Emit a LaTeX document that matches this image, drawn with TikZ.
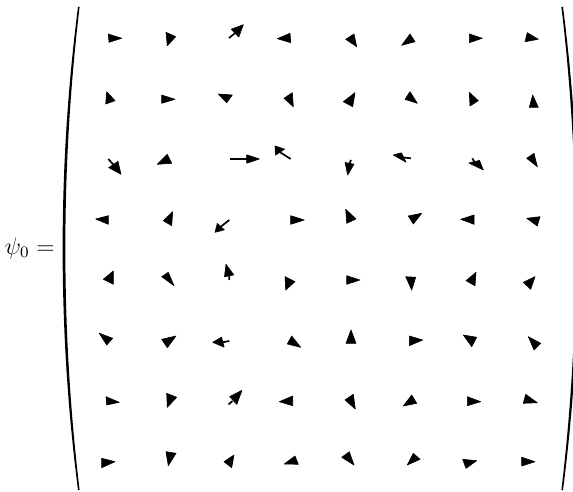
\documentclass[tikz,border=0pt]{standalone}
\tikzset{
  vechead/.style={fill=black, draw=black, line width=0.3pt, line join=round},
  vecshaft/.style={line width=0.85pt},
  parenfill/.style={fill=black}
}
\newcommand\vhead[3]{\filldraw[vechead] (#1) -- (#2) -- (#3) -- cycle;}
\newcommand\vshaft[2]{\draw[vecshaft] (#1) -- (#2);}
\begin{document}
\begin{tikzpicture}[x=0.5pt,y=-0.5pt]
\useasboundingbox (0,0) rectangle (573,492);
\clip (0,0) rectangle (573,492);
% left-hand side
\node[anchor=base east, inner sep=0pt, font=\fontsize{12}{14}\selectfont] (lhs) at (55,254) {$\psi_0 =$};
% parentheses
\fill[parenfill] (78,7) .. controls (57.5,166) and (57.5,331) .. (78,490)
  -- (79.6,490) .. controls (60.6,331) and (60.6,166) .. (79.6,7) -- cycle;
\fill[parenfill] (563,7) .. controls (583.5,166) and (583.5,331) .. (563,490)
  -- (561.4,490) .. controls (580.4,331) and (580.4,166) .. (561.4,7) -- cycle;
% row 1
\vhead{108.3,34}{109,42.3}{121.7,38.3}
\vhead{166,32.3}{175.7,36.7}{167.3,45.7}
\vshaft{229,38}{235,33.2}\vhead{231.2,29.2}{238.8,37.1}{243.3,24.7}
\vhead{277.3,38.7}{290,33.3}{290.7,42.7}
\vhead{345.7,39.3}{354,34}{356.7,46.7}
\vhead{401.7,45.3}{410,34}{415,41.7}
\vhead{469.3,34}{469.3,42.7}{482.3,38.3}
\vhead{525,41.7}{527.3,32.7}{538.3,39.3}
% row 2
\vhead{106.7,91.7}{105.7,104}{115,100.7}
\vhead{161.7,95}{161.7,103.3}{175,99.3}
\vhead{218.3,94}{232.3,95}{226.7,102.7}
\vhead{284,98.3}{292.3,92.7}{293.3,106.7}
\vhead{343.3,101.7}{355,92.7}{352.7,106.7}
\vhead{405,99.3}{410,91.7}{417.3,103.3}
\vhead{469.3,92.3}{470,106}{478.3,100.7}
\vhead{529.3,107.3}{532.7,95}{538.3,107.3}
% row 3
\vshaft{108.3,159}{113.3,164.5}\vhead{108.7,167.6}{118,161.4}{121,174.3}
\vhead{157.3,164.3}{167.3,154.3}{171.7,163.3}
\vshaft{230,159}{247,159}\vhead{246.7,154.8}{246.7,163.2}{259.3,159}
\vshaft{290.7,159}{280,152.2}\vhead{275.4,155.2}{284.6,149.1}{275,146}
\vshaft{351,160}{349.5,163.3}\vhead{345,162.5}{354,164.2}{347.7,175}
\vshaft{411,158.3}{403.7,157.5}\vhead{401.3,152.8}{406.1,162.2}{393.3,155}
\vshaft{472.3,158.3}{474.2,161.7}\vhead{468.8,163}{479.5,160.4}{483.3,170}
\vhead{526.7,158.3}{534,153.3}{537.3,166.7}
% row 4
\vhead{95.7,219}{108.3,215.7}{108.3,224.3}
\vhead{163.3,220.7}{172.7,211.7}{171.7,225.7}
\vshaft{229.3,220}{220.8,226.7}\vhead{217.3,223.4}{224.3,229.9}{215,232.3}
\vhead{290.7,215.7}{290.7,224.3}{304.3,220}
\vhead{345.7,209.3}{346.7,223.3}{356,219}
\vhead{408.3,216}{421.7,213.3}{413.3,224}
\vhead{460.7,219.3}{474,215}{474,224.3}
\vhead{526.7,218.3}{540,216.7}{537.3,226}
% row 5
\vhead{103.3,279.3}{113.3,271}{113.3,284.3}
\vhead{161.7,276.7}{168.3,272.3}{174,285.7}
\vshaft{229.3,280}{229.2,275.8}\vhead{224.5,276.8}{233.8,274.9}{226,264.3}
\vhead{285,276.7}{295,281.7}{285.7,290}
\vhead{346.7,275.7}{346.7,284.3}{360,280}
\vhead{405.7,276.7}{415.7,277.3}{411.7,290}
\vhead{466,280.7}{476,272.3}{475,285.7}
\vhead{523.3,282.3}{535,276.7}{530.7,289.3}
% row 6
\vhead{99.3,333.3}{112.7,338.3}{106.7,345}
\vhead{161.7,339.3}{176,336}{167.3,347.7}
\vshaft{229.3,341}{222.8,342.2}\vhead{221.5,337.2}{224.2,347.2}{212.7,342.3}
\vhead{287.3,344}{291.7,336}{300.7,347.3}
\vhead{346,343.3}{351,330}{356,343.3}
\vhead{409.3,336}{409.3,345.7}{422.7,340}
\vhead{463.3,335}{476.7,337.3}{471.7,346.7}
\vhead{528.3,336.7}{540.7,343.3}{534,350}
% row 7
\vhead{106,396.7}{106.7,405}{119.3,402.3}
\vhead{166.7,393.3}{176.7,397.3}{167.3,407.3}
\vshaft{228.5,404.5}{232.5,401}\vhead{229.7,396.6}{236.8,404.4}{242,390.3}
\vhead{279.3,401.7}{292.7,396}{292.7,405.7}
\vhead{345,400}{353.3,394.3}{355.3,409}
\vhead{403.3,406}{411.7,395}{416.7,403.3}
\vhead{467.3,396.7}{467.3,405.7}{480.7,401.7}
\vhead{523.3,403.3}{525.7,394.3}{537.3,402.7}
% row 8
\vhead{101.7,458.3}{101.7,467.7}{115,461.7}
\vhead{166,451.7}{176,453.3}{168.3,465.7}
\vhead{224,461.7}{234,455}{231.7,467.7}
\vhead{284.3,464}{295,456}{298.3,464.3}
\vhead{341.7,457.3}{349.3,451.7}{354,465}
\vhead{407.3,465}{413.3,453.3}{420,459.3}
\vhead{462.7,459.3}{476.7,460.7}{466,468.3}
\vhead{521.7,457.3}{521.7,466}{535,461.7}
\end{tikzpicture}
\end{document}
